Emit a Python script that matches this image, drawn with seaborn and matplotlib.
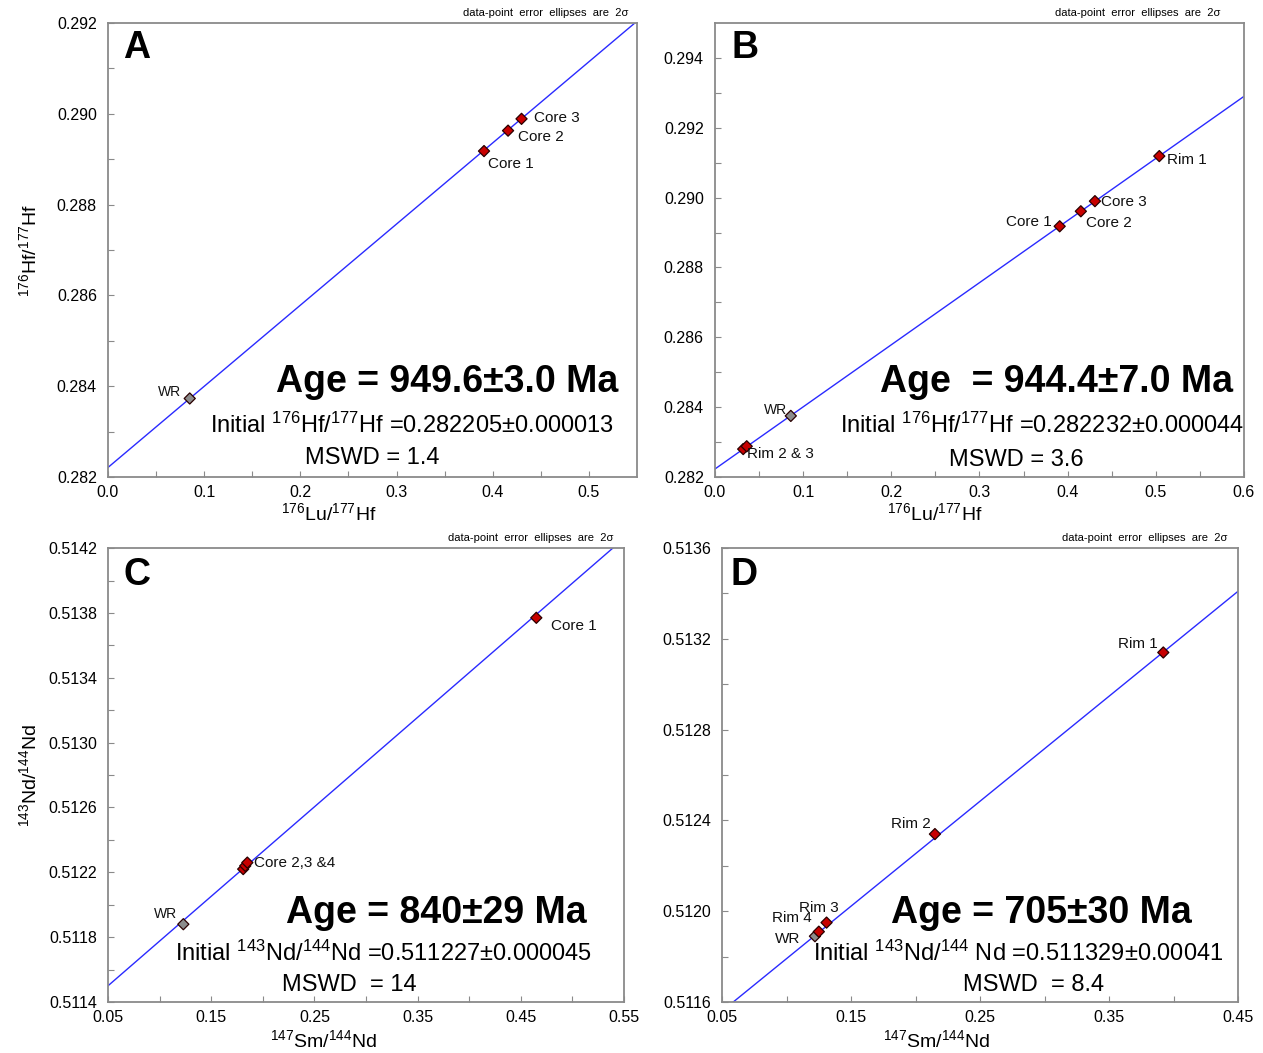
import matplotlib
matplotlib.use("Agg")
import matplotlib.pyplot as plt
import seaborn as sns
import pandas as pd
from matplotlib.ticker import FixedLocator, FixedFormatter

# ---------------- data ----------------
# Panel A (Lu-Hf)
A_labels = ["WR", "Core 1", "Core 2", "Core 3"]
A_kind = ["WR", "garnet", "garnet", "garnet"]
A_x = [0.085, 0.391, 0.416, 0.430]
A_y = [0.28373, 0.28918, 0.28963, 0.28989]
A_line_x = [0.0, 0.55]
A_line_y = [0.28221, 0.29204]

# Panel B (Lu-Hf)
B_labels = ["Rim 2", "Rim 3", "WR", "Core 1", "Core 2", "Core 3", "Rim 1"]
B_kind = ["garnet", "garnet", "WR", "garnet", "garnet", "garnet", "garnet"]
B_x = [0.032, 0.036, 0.086, 0.391, 0.415, 0.431, 0.504]
B_y = [0.28280, 0.28288, 0.28375, 0.28918, 0.28961, 0.28990, 0.29119]
B_line_x = [0.0, 0.6]
B_line_y = [0.28223, 0.29290]

# Panel C (Sm-Nd)
C_labels = ["WR", "Core 2", "Core 3", "Core 4", "Core 1"]
C_kind = ["WR", "garnet", "garnet", "garnet", "garnet"]
C_x = [0.123, 0.181, 0.183, 0.185, 0.465]
C_y = [0.51188, 0.51222, 0.51224, 0.51226, 0.51377]
C_line_x = [0.05, 0.55]
C_line_y = [0.51150, 0.51426]

# Panel D (Sm-Nd)
D_labels = ["WR", "Rim 4", "Rim 3", "Rim 2", "Rim 1"]
D_kind = ["WR", "garnet", "garnet", "garnet", "garnet"]
D_x = [0.122, 0.125, 0.131, 0.215, 0.392]
D_y = [0.51189, 0.51191, 0.51195, 0.51234, 0.51314]
D_line_x = [0.05, 0.45]
D_line_y = [0.51156, 0.51341]

# Tick values / labels
A_xticks = [0.0, 0.1, 0.2, 0.3, 0.4, 0.5]
A_xticklabels = ["0.0", "0.1", "0.2", "0.3", "0.4", "0.5"]
A_yticks = [0.282, 0.284, 0.286, 0.288, 0.290, 0.292]
A_yticklabels = ["0.282", "0.284", "0.286", "0.288", "0.290", "0.292"]
B_xticks = [0.0, 0.1, 0.2, 0.3, 0.4, 0.5, 0.6]
B_xticklabels = ["0.0", "0.1", "0.2", "0.3", "0.4", "0.5", "0.6"]
B_yticks = [0.282, 0.284, 0.286, 0.288, 0.290, 0.292, 0.294]
B_yticklabels = ["0.282", "0.284", "0.286", "0.288", "0.290", "0.292", "0.294"]
C_xticks = [0.05, 0.15, 0.25, 0.35, 0.45, 0.55]
C_xticklabels = ["0.05", "0.15", "0.25", "0.35", "0.45", "0.55"]
C_yticks = [0.5114, 0.5118, 0.5122, 0.5126, 0.5130, 0.5134, 0.5138, 0.5142]
C_yticklabels = ["0.5114", "0.5118", "0.5122", "0.5126", "0.5130", "0.5134", "0.5138", "0.5142"]
D_xticks = [0.05, 0.15, 0.25, 0.35, 0.45]
D_xticklabels = ["0.05", "0.15", "0.25", "0.35", "0.45"]
D_yticks = [0.5116, 0.5120, 0.5124, 0.5128, 0.5132, 0.5136]
D_yticklabels = ["0.5116", "0.5120", "0.5124", "0.5128", "0.5132", "0.5136"]

A_xminor = [0.05, 0.15, 0.25, 0.35, 0.45]
A_yminor = [0.283, 0.285, 0.287, 0.289, 0.291]
B_xminor = [0.05, 0.15, 0.25, 0.35, 0.45, 0.55]
B_yminor = [0.283, 0.285, 0.287, 0.289, 0.291, 0.293]
C_xminor = [0.10, 0.20, 0.30, 0.40, 0.50]
C_yminor = [0.5116, 0.5120, 0.5124, 0.5128, 0.5132, 0.5136, 0.5140]
D_xminor = [0.10, 0.20, 0.30, 0.40]
D_yminor = [0.5118, 0.5122, 0.5126, 0.5130, 0.5134]

# Texts
A_age = "Age = 949.6±3.0 Ma"
A_init = "Initial $^{176}$Hf/$^{177}$Hf =0.282205±0.000013"
A_mswd = "MSWD = 1.4"
B_age = "Age  = 944.4±7.0 Ma"
B_init = "Initial $^{176}$Hf/$^{177}$Hf =0.282232±0.000044"
B_mswd = "MSWD = 3.6"
C_age = "Age = 840±29 Ma"
C_init = "Initial $^{143}$Nd/$^{144}$Nd =0.511227±0.000045"
C_mswd = "MSWD  = 14"
D_age = "Age = 705±30 Ma"
D_init = "Initial $^{143}$Nd/$^{144}$ Nd =0.511329±0.00041"
D_mswd = "MSWD  = 8.4"
note = "data-point  error  ellipses  are  2σ"
LuHf_xlabel = "$^{176}$Lu/$^{177}$Hf"
LuHf_ylabel = "$^{176}$Hf/$^{177}$Hf"
SmNd_xlabel = "$^{147}$Sm/$^{144}$Nd"
SmNd_ylabel = "$^{143}$Nd/$^{144}$Nd"

# ---------------- style ----------------
sns.set_theme(style="white")
plt.rcParams["font.family"] = ["Liberation Sans", "DejaVu Sans"]
plt.rcParams["mathtext.fontset"] = "custom"
plt.rcParams["mathtext.rm"] = "Liberation Sans"
plt.rcParams["mathtext.it"] = "Liberation Sans:italic"
plt.rcParams["mathtext.bf"] = "Liberation Sans:bold"
plt.rcParams["text.color"] = "black"
plt.rcParams["axes.labelcolor"] = "black"

fig = plt.figure(figsize=(12.63, 10.53), dpi=100)

SPINE = "#8a8a8a"
LINE = "#2a2aff"
palette = {"garnet": "#c80000", "WR": "#8c8c8c"}


def panel(rect, labels, kind, xs, ys, lx, ly, xlim, ylim,
          xt, xtl, xmin, yt, ytl, ymin, letter, letter_xy,
          age, age_xy, init, init_xy, mswd, mswd_xy, note_x,
          annots, xlabel, xlabel_xy, ylabel=None, ylabel_xy=None):
    ax = fig.add_axes(rect)
    df = pd.DataFrame({"x": xs, "y": ys, "kind": kind, "label": labels})
    ldf = pd.DataFrame({"x": lx, "y": ly})
    sns.lineplot(data=ldf, x="x", y="y", color=LINE, lw=1.0, ax=ax, zorder=2)
    sns.scatterplot(data=df, x="x", y="y", hue="kind", palette=palette,
                    marker="D", s=32, edgecolor="#2a0000", linewidth=0.9,
                    legend=False, ax=ax, zorder=3)
    ax.set_xlim(*xlim)
    ax.set_ylim(*ylim)
    ax.xaxis.set_major_locator(FixedLocator(xt))
    ax.xaxis.set_major_formatter(FixedFormatter(xtl))
    ax.yaxis.set_major_locator(FixedLocator(yt))
    ax.yaxis.set_major_formatter(FixedFormatter(ytl))
    ax.xaxis.set_minor_locator(FixedLocator(xmin))
    ax.yaxis.set_minor_locator(FixedLocator(ymin))
    for s in ax.spines.values():
        s.set_visible(True)
        s.set_color(SPINE)
        s.set_linewidth(1.3)
    ax.tick_params(which="both", direction="in", length=4, width=0.8,
                   color=SPINE, top=False, right=False, bottom=True, left=True,
                   labelsize=11.5, labelcolor="black")
    ax.tick_params(axis="x", which="both", pad=6)
    ax.tick_params(axis="y", which="both", pad=8)
    ax.set_xlabel(xlabel, fontsize=14, color="black")
    ax.xaxis.set_label_coords(*xlabel_xy)
    if ylabel:
        ax.set_ylabel(ylabel, fontsize=14, color="black")
        ax.yaxis.set_label_coords(*ylabel_xy)
    else:
        ax.set_ylabel("")
    ax.text(*letter_xy, letter, transform=ax.transAxes, fontsize=27,
            fontweight="bold", ha="center", va="center", color="black")
    ax.text(*age_xy, age, transform=ax.transAxes, fontsize=27,
            fontweight="bold", ha="right", va="center", color="black")
    ax.text(*init_xy, init, transform=ax.transAxes, fontsize=17,
            ha="right", va="center", color="black")
    ax.text(*mswd_xy, mswd, transform=ax.transAxes, fontsize=17,
            ha="center", va="center", color="black")
    ax.text(note_x, 1.022, note, transform=ax.transAxes, fontsize=8,
            ha="right", va="center", color="black")
    for (idx, text, dx, dy, ha, fs) in annots:
        ax.annotate(text, xy=(xs[idx], ys[idx]), xytext=(dx, dy),
                    textcoords="offset pixels", ha=ha, va="center",
                    fontsize=fs, color="#111111")
    return ax


panel([0.0855, 0.547, 0.4188, 0.4311], A_labels, A_kind, A_x, A_y,
      A_line_x, A_line_y, (0.0, 0.55), (0.282, 0.292),
      A_xticks, A_xticklabels, A_xminor, A_yticks, A_yticklabels, A_yminor,
      "A", (0.055, 0.945),
      A_age, (0.964, 0.209), A_init, (0.957, 0.115), A_mswd, (0.499, 0.042),
      0.983,
      [(3, A_labels[3], 12, 1, "left", 11),
       (2, A_labels[2], 10, -6, "left", 11),
       (1, A_labels[1], 4, -13, "left", 11),
       (0, A_labels[0], -9, 6, "right", 10)],
      LuHf_xlabel, (0.418, -0.056), LuHf_ylabel, (-0.129, 0.5))

panel([0.5661, 0.547, 0.4188, 0.4311], B_labels, B_kind, B_x, B_y,
      B_line_x, B_line_y, (0.0, 0.6), (0.282, 0.295),
      B_xticks, B_xticklabels, B_xminor, B_yticks, B_yticklabels, B_yminor,
      "B", (0.057, 0.945),
      B_age, (0.979, 0.209), B_init, (1.0, 0.115), B_mswd, (0.569, 0.037),
      0.955,
      [(6, B_labels[6], 8, -4, "left", 11),
       (5, B_labels[5], 6, -1, "left", 11),
       (4, B_labels[4], 5, -12, "left", 11),
       (3, B_labels[3], -8, 4, "right", 11),
       (2, B_labels[2], -4, 6, "right", 10),
       (1, "Rim 2 & 3", 0, -8, "left", 11)],
      LuHf_xlabel, (0.416, -0.056))

panel([0.0855, 0.0484, 0.4086, 0.4311], C_labels, C_kind, C_x, C_y,
      C_line_x, C_line_y, (0.05, 0.55), (0.5114, 0.5142),
      C_xticks, C_xticklabels, C_xminor, C_yticks, C_yticklabels, C_yminor,
      "C", (0.056, 0.94),
      C_age, (0.928, 0.196), C_init, (0.938, 0.108), C_mswd, (0.467, 0.037),
      0.98,
      [(4, C_labels[4], 15, -8, "left", 11),
       (3, "Core 2,3 &4", 7, 0, "left", 11),
       (0, C_labels[0], -6, 10, "right", 10)],
      SmNd_xlabel, (0.417, -0.060), SmNd_ylabel, (-0.132, 0.5))

panel([0.5717, 0.0484, 0.4086, 0.4311], D_labels, D_kind, D_x, D_y,
      D_line_x, D_line_y, (0.05, 0.45), (0.5116, 0.5136),
      D_xticks, D_xticklabels, D_xminor, D_yticks, D_yticklabels, D_yminor,
      "D", (0.043, 0.94),
      D_age, (0.911, 0.196), D_init, (0.971, 0.108), D_mswd, (0.603, 0.037),
      0.98,
      [(4, D_labels[4], -6, 8, "right", 11),
       (3, D_labels[3], -4, 10, "right", 11),
       (2, D_labels[2], -8, 15, "center", 11),
       (1, D_labels[1], -7, 14, "right", 11),
       (0, D_labels[0], -15, -3, "right", 11)],
      SmNd_xlabel, (0.415, -0.060))

fig.savefig("out.png", dpi=100, facecolor="white")
